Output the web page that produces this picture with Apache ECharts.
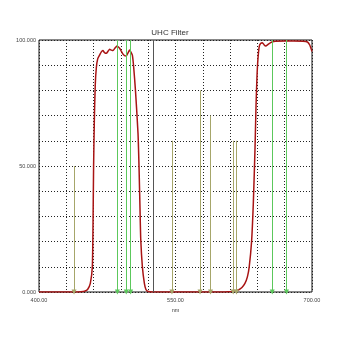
<!DOCTYPE html>
<html>
<head>
<meta charset="utf-8">
<script src="https://cdn.jsdelivr.net/npm/echarts@6/dist/echarts.min.js"></script>
<style>
html,body{margin:0;padding:0;background:#fff;}
#chart{width:340px;height:340px;}
</style>
</head>
<body>
<div id="chart"></div>
<script>
// Transmission curve (wavelength nm, transmission %)
var wavelengths = [400, 420, 440, 446, 450, 453.4, 456.4, 458.6, 459.4, 460, 460.8, 461.8, 463, 464.5, 466.6, 468.5, 470.2, 472, 474, 476, 477.6, 479.5, 481.3, 483.5, 485.7, 488.6, 490.5, 492.3, 494, 496, 498, 499.6, 501, 502.6, 504, 506, 508.8, 509.9, 511, 511.8, 513.6, 515.8, 517.5, 520, 525, 560, 600, 606, 609.7, 614, 619, 623, 626.3, 629, 631, 633.6, 635.5, 637.3, 638.5, 639.5, 640.5, 642, 643.5, 645.5, 647.5, 649, 652.5, 656, 660, 670, 680, 690, 695, 697.5, 700];
var transmission = [0, 0, 0, 0.1, 0.3, 1, 3.4, 10, 28, 50, 68, 82, 89, 92.5, 94, 95.3, 95.8, 95, 94.7, 95.6, 96.3, 96, 95.8, 96.8, 97.6, 96.7, 95.5, 94.4, 93.8, 93.7, 95, 96, 95.2, 94, 89.4, 80, 63, 50, 33, 21, 10, 3.4, 1, 0.2, 0, 0, 0, 0.05, 0.1, 0.3, 0.8, 1.8, 3.4, 6, 10, 20, 35, 56, 74, 85, 92, 97.4, 98.6, 98.9, 98, 97.6, 98.5, 99.2, 99.5, 99.6, 99.6, 99.5, 99.2, 98, 95.4];

// Nebula emission lines (green)
var nebulaLines = [486.1, 495.9, 500.7, 656.3, 672];
var nebulaHeights = [100, 100, 100, 100, 100];
// Light pollution lines (olive)
var pollutionLines = [438.5, 546.1, 577, 588.5, 613.4, 617];
var pollutionHeights = [50, 60, 80, 70, 60, 60];
// Reference line
var refLine = [525];

// Tick labels
var xLabelValues = [400, 550, 700];
var xLabelTexts = ['400.00', '550.00', '700.00'];
var yLabelValues = [0, 50, 100];
var yLabelTexts = ['0.000', '50.000', '100.000'];

var curve = wavelengths.map(function (w, i) { return [w, transmission[i]]; });

function vlines(xs, hs) {
  return xs.map(function (x, i) {
    return [{ coord: [x, hs[i]], symbol: 'none' }, { coord: [x, 0], symbol: 'triangle' }];
  });
}

var chart = echarts.init(document.getElementById('chart'), null, { renderer: 'canvas' });
chart.setOption({
  animation: false,
  backgroundColor: '#fff',
  title: {
    text: 'UHC Filter',
    left: 'center',
    top: 29,
    padding: 0,
    textStyle: { fontFamily: 'Liberation Sans', fontSize: 8, fontWeight: 'normal', color: '#333' }
  },
  grid: {
    left: 39, right: 28, top: 40, bottom: 48,
    show: true, borderColor: '#111', borderWidth: 1, backgroundColor: '#fff'
  },
  xAxis: {
    type: 'value', min: 400, max: 700, interval: 30,
    name: 'nm', nameLocation: 'middle', nameGap: 13,
    nameTextStyle: { fontFamily: 'Liberation Sans', fontSize: 5.5, color: '#444' },
    axisLine: { show: false }, axisTick: { show: false },
    axisLabel: {
      margin: 5, fontFamily: 'Liberation Sans', fontSize: 5.5, color: '#444',
      formatter: function (v) { var i = xLabelValues.indexOf(v); return i >= 0 ? xLabelTexts[i] : ''; }
    },
    splitLine: { show: true, lineStyle: { color: '#222', type: [1, 2], width: 1 } }
  },
  yAxis: {
    type: 'value', min: 0, max: 100, interval: 10,
    axisLine: { show: false }, axisTick: { show: false },
    axisLabel: {
      margin: 3, fontFamily: 'Liberation Sans', fontSize: 5.5, color: '#444',
      formatter: function (v) { var i = yLabelValues.indexOf(v); return i >= 0 ? yLabelTexts[i] : ''; }
    },
    splitLine: { show: true, lineStyle: { color: '#222', type: [1, 2], width: 1 } }
  },
  series: [
    {
      type: 'line', data: [], silent: true, z: 1,
      markLine: {
        silent: true, symbolSize: 5, label: { show: false },
        lineStyle: { color: '#a6a66a', width: 1, type: 'solid' },
        data: vlines(pollutionLines, pollutionHeights)
      }
    },
    {
      type: 'line', data: [], silent: true, z: 1,
      markLine: {
        silent: true, symbolSize: 5, label: { show: false },
        lineStyle: { color: '#5cc85c', width: 1, type: 'solid' },
        data: vlines(nebulaLines, nebulaHeights)
      }
    },
    {
      type: 'line', data: [], silent: true, z: 1,
      markLine: {
        silent: true, symbol: 'none', label: { show: false },
        lineStyle: { color: '#555', width: 1, type: 'solid' },
        data: refLine.map(function (x) { return [{ coord: [x, 100] }, { coord: [x, 0] }]; })
      }
    },
    {
      type: 'line', data: curve, showSymbol: false, smooth: 0.2, z: 3,
      lineStyle: { color: '#a81414', width: 1.5 }
    }
  ]
});
</script>
</body>
</html>
